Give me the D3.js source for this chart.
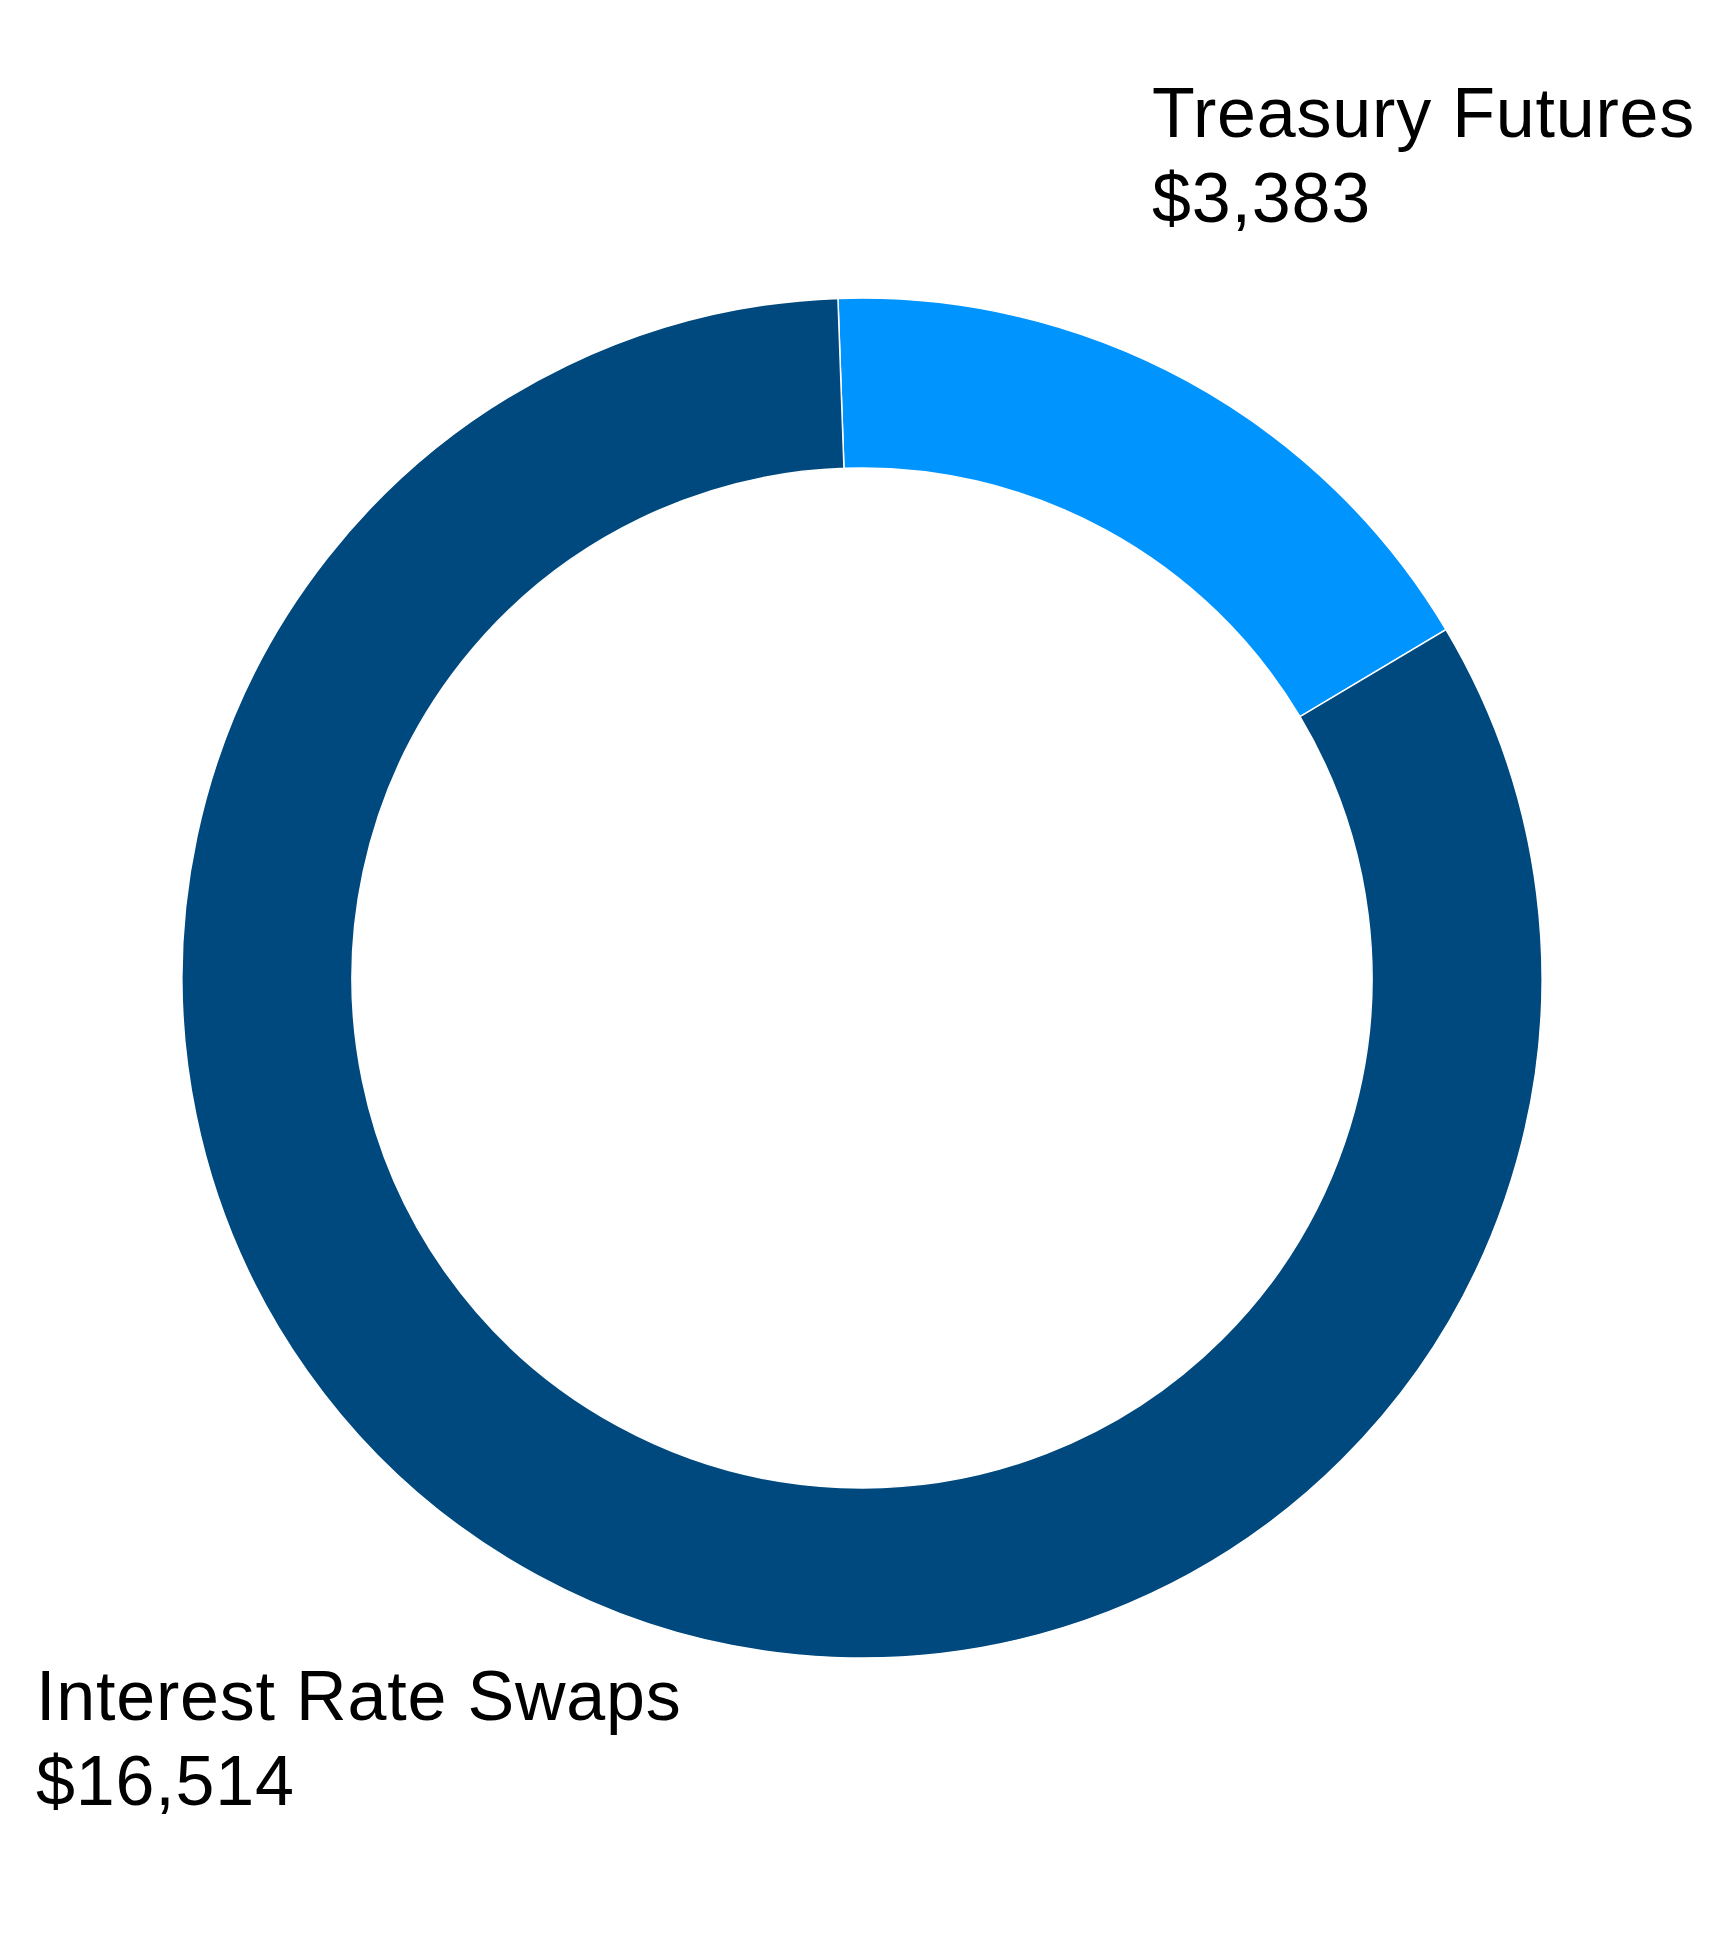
<!DOCTYPE html>
<html>
<head>
<meta charset="utf-8">
<script src="https://cdn.jsdelivr.net/npm/d3@7/dist/d3.min.js"></script>
<style>
  html, body { margin: 0; padding: 0; background: #fff; }
  svg { display: block; }
</style>
</head>
<body>
<div id="chart"></div>
<script>
// Donut: derivative notional split
const categories = ["Treasury Futures", "Interest Rate Swaps"];
const values = [3383, 16514];
const colors = ["#0094FF", "#00497E"];

const width = 1728;
const height = 1956;
const cx = 862, cy = 978;
const outerR = 680, innerR = 510;
// first slice starts just left of 12 o'clock
const start = -0.0354;

// label anchor points (left edge, baseline of first line)
const labelPos = [
  { x: 1152, y: 137 },
  { x: 36, y: 1720 }
];

const fmt = d3.format("$,");

const svg = d3.select("#chart").append("svg")
  .attr("width", width)
  .attr("height", height);

const pie = d3.pie()
  .sort(null)
  .startAngle(start)
  .endAngle(start + 2 * Math.PI);

const arc = d3.arc()
  .innerRadius(innerR)
  .outerRadius(outerR);

const g = svg.append("g")
  .attr("transform", `translate(${cx},${cy})`);

g.selectAll("path")
  .data(pie(values))
  .join("path")
  .attr("d", arc)
  .attr("fill", (d, i) => colors[i])
  .attr("stroke", "#fff")
  .attr("stroke-width", 1.5);

const labels = svg.selectAll("text.lbl")
  .data(categories)
  .join("text")
  .attr("class", "lbl")
  .attr("x", (d, i) => labelPos[i].x)
  .attr("y", (d, i) => labelPos[i].y)
  .style("font-family", "'Liberation Sans', Arial, sans-serif")
  .style("font-size", "70px")
  .style("letter-spacing", "0.8px")
  .style("fill", "#000");

labels.append("tspan")
  .attr("x", (d, i) => labelPos[i].x)
  .text(d => d);

labels.append("tspan")
  .attr("x", (d, i) => labelPos[i].x)
  .attr("dy", 85)
  .text((d, i) => fmt(values[i]));
</script>
</body>
</html>
